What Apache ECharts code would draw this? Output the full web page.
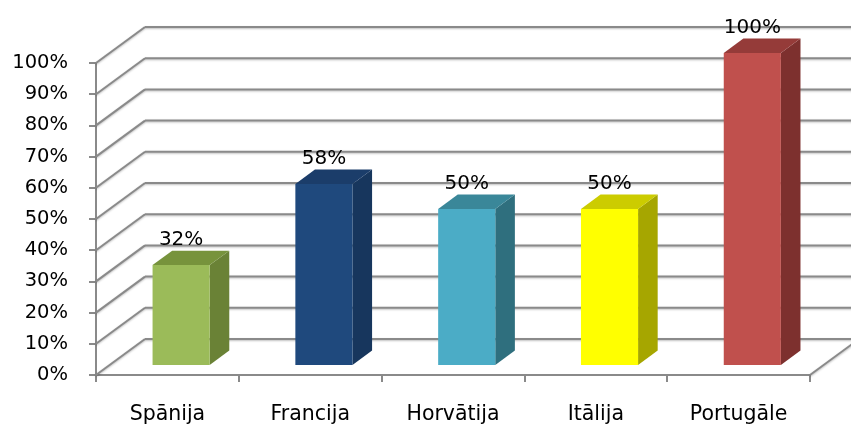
<!DOCTYPE html>
<html>
<head>
<meta charset="utf-8">
<script src="https://cdn.jsdelivr.net/npm/echarts@6/dist/echarts.min.js"></script>
<style>html,body{margin:0;padding:0;background:#fff}#c{width:851px;height:425px}</style>
</head>
<body>
<div id="c"></div>
<script>
// ---- data ----
var categories = ['Spānija', 'Francija', 'Horvātija', 'Itālija', 'Portugāle'];
var values = [0.32, 0.58, 0.50, 0.50, 1.00];
var yTicks = [0, 0.1, 0.2, 0.3, 0.4, 0.5, 0.6, 0.7, 0.8, 0.9, 1.0];

// ---- styles ----
var FONT = 'DejaVu Sans';
var FS_TICK = 19.5;
var FS_CAT = 20.5;
var FS_VAL = 20;
var DX = 49, DY = -36;       // depth projection of the wall
var F1 = 0.28, F2 = 0.68;    // bar depth span (fraction of depth)
var BARW = 0.4;              // bar width as fraction of band
var faceColors = [
  ['#9BBB59', '#6A8236', '#77933C'],
  ['#1F497D', '#17365D', '#1B3D6A'],
  ['#4BACC6', '#2F6F7E', '#3A8799'],
  ['#FFFF00', '#A6A600', '#CCCC00'],
  ['#C0504D', '#7D302E', '#953B39']
];
var GRID_COLOR = '#8a8a8a';

var chart = echarts.init(document.getElementById('c'), null, {renderer: 'canvas'});

var gridData = yTicks.map(function (v) { return [0, v]; });
var barData = values.map(function (v, i) { return [i, v]; });

function lineEl(x1, y1, x2, y2) {
  return {
    type: 'line',
    shape: {x1: x1, y1: y1, x2: x2, y2: y2},
    style: {stroke: GRID_COLOR, lineWidth: 2, shadowBlur: 2, shadowColor: 'rgba(0,0,0,0.25)', shadowOffsetY: 1}
  };
}

var option = {
  animation: false,
  backgroundColor: '#ffffff',
  grid: {left: 96, top: 63, right: 41, bottom: 44, containLabel: false},
  xAxis: {
    type: 'category',
    data: categories,
    boundaryGap: true,
    axisLine: {show: true, lineStyle: {color: GRID_COLOR, width: 2}},
    axisTick: {show: true, length: 7, lineStyle: {color: GRID_COLOR, width: 2}},
    axisLabel: {color: '#000', fontFamily: FONT, fontSize: FS_CAT, margin: 29}
  },
  yAxis: {
    type: 'value',
    min: 0, max: 1, interval: 0.1,
    axisLine: {show: true, lineStyle: {color: GRID_COLOR, width: 2}},
    axisTick: {show: true, length: 7, lineStyle: {color: GRID_COLOR, width: 2}},
    splitLine: {show: false},
    axisLabel: {
      color: '#000', fontFamily: FONT, fontSize: FS_TICK, margin: 28,
      formatter: function (v) { return Math.round(v * 100) + '%'; }
    }
  },
  series: [
    {
      type: 'custom',
      z: 1,
      clip: false,
      silent: true,
      data: gridData,
      encode: {x: 0, y: 1},
      renderItem: function (params, api) {
        var cs = params.coordSys;
        var y = api.coord([0, api.value(1)])[1];
        var x0 = cs.x, x1 = cs.x + cs.width;
        var children = [
          lineEl(x0, y, x0 + DX, y + DY),
          lineEl(x0 + DX, y + DY, x1 + DX, y + DY)
        ];
        if (params.dataIndex === 0) {
          children.push(lineEl(x1, y, x1 + DX, y + DY));
        }
        return {type: 'group', children: children};
      }
    },
    {
      type: 'custom',
      z: 3,
      clip: false,
      data: barData,
      encode: {x: 0, y: 1},
      renderItem: function (params, api) {
        var i = api.value(0), v = api.value(1);
        var base = api.coord([i, 0]);
        var top = api.coord([i, v]);
        var band = api.size([1, 0])[0];
        var w = band * BARW;
        var xl = base[0] - w / 2, xr = base[0] + w / 2;
        var y0 = base[1], yt = top[1];
        var ax = F1 * DX, ay = F1 * DY, bx = F2 * DX, by = F2 * DY;
        var c = faceColors[i];
        var label = Math.round(v * 100) + '%';
        return {
          type: 'group',
          children: [
            {type: 'polygon', shape: {points: [[xr + ax, yt + ay], [xr + bx, yt + by], [xr + bx, y0 + by], [xr + ax, y0 + ay]]},
              style: {fill: c[1]}},
            {type: 'polygon', shape: {points: [[xl + ax, yt + ay], [xl + bx, yt + by], [xr + bx, yt + by], [xr + ax, yt + ay]]},
              style: {fill: c[2]}},
            {type: 'rect', shape: {x: xl + ax, y: yt + ay, width: w, height: y0 - yt},
              style: {fill: c[0]}},
            {type: 'text', x: base[0] + ax, y: yt + by - 1,
              style: {text: label, fill: '#000', font: FS_VAL + 'px "' + FONT + '"', align: 'center', verticalAlign: 'bottom'}}
          ]
        };
      }
    }
  ]
};
chart.setOption(option);
</script>
</body>
</html>
